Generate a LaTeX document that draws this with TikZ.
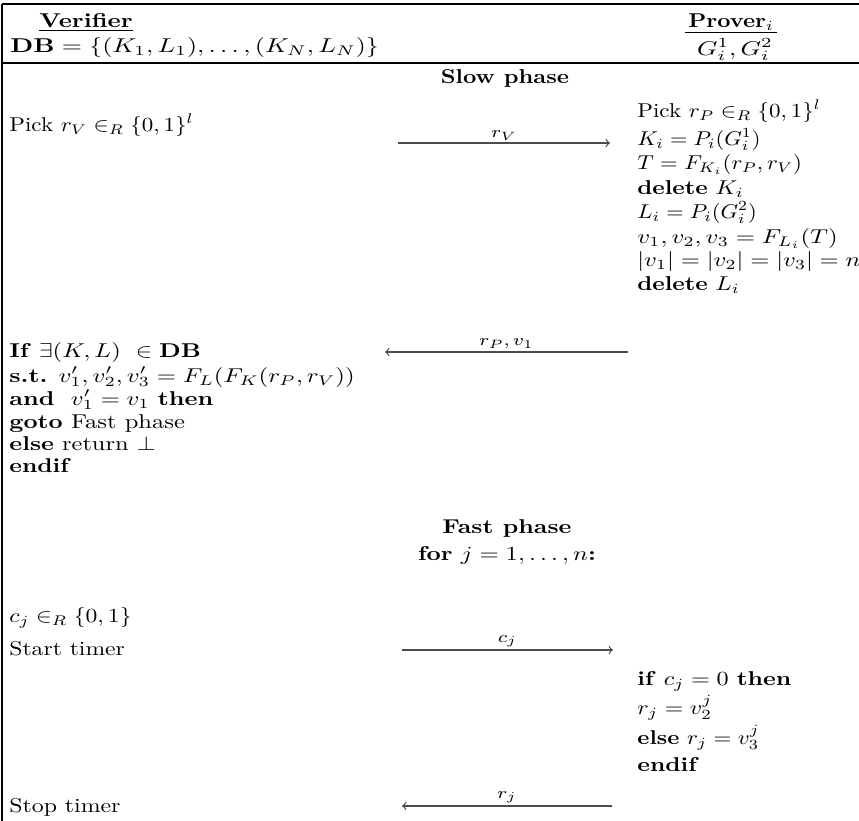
\documentclass[tikz,border=0pt]{standalone}
\usepackage{amsmath,amssymb,graphicx}
\newcommand{\sx}[2][1.2]{\scalebox{#1}[1]{#2}}
\begin{document}
\begin{tikzpicture}[x=0.5pt,y=-0.5pt,
  txt/.style={anchor=base west,inner sep=0pt},
  ctr/.style={anchor=base,inner sep=0pt},
  frame/.style={line width=0.6pt},
  msg/.style={line width=0.6pt,draw=black!70,-to},
  lbl/.style={midway,above,inner sep=1.2pt,font=\footnotesize}]
\useasboundingbox (0,0) rectangle (859,821);
% frame
\draw[frame] (2,4) -- (859,4);
\draw[frame] (2,4) -- (2,821);
\draw[frame] (2,63) -- (859,63);
% header
\node[txt] (ver) at (39,27) {\sx[1.25]{\underline{\textbf{Verifier}}}};
\node[txt] (db) at (10,52) {\sx[1.3]{$\mathbf{DB}=\{(K_1,L_1),\ldots,(K_N,L_N)\}$}};
\node[ctr] (prv) at (731,27) {\sx[1.15]{\textbf{Prover}$_i$}};
\node[ctr] (gg) at (735,55) {\sx[1.3]{$G_i^1,G_i^2$}};
\draw[line width=0.45pt] (685,32) -- (777,32);
% slow phase
\node[ctr] (slow) at (505,83) {\sx[1.16]{\textbf{Slow phase}}};
\node[txt] (v1) at (9,131) {\sx[1.15]{Pick $r_V\in_R\{0,1\}^l$}};
\node[txt] (p1) at (637,117) {\sx[1.15]{Pick $r_P\in_R\{0,1\}^l$}};
\node[txt] (p2) at (637,145) {\sx[1.12]{$K_i=P_i(G_i^1)$}};
\node[txt] (p3) at (637,169) {\sx[1.14]{$T=F_{K_i}(r_P,r_V)$}};
\node[txt] (p4) at (637,194) {\sx[1.18]{\textbf{delete} $K_i$}};
\node[txt] (p5) at (637,218) {\sx[1.12]{$L_i=P_i(G_i^2)$}};
\node[txt] (p6) at (637,243) {\sx[1.24]{$v_1,v_2,v_3=F_{L_i}(T)$}};
\node[txt] (p7) at (637,266) {\sx[1.23]{$|v_1|=|v_2|=|v_3|=n$}};
\node[txt] (p8) at (637,290) {\sx[1.18]{\textbf{delete} $L_i$}};
\coordinate (a1s) at (398,143);
\coordinate (a1e) at (610,143);
\draw[msg] (a1s) -- node[lbl] {\sx[1.23]{$r_V$}} (a1e);
\coordinate (a2s) at (628,352);
\coordinate (a2e) at (385,352);
\draw[msg] (a2s) -- node[lbl] {\sx[1.23]{$r_P,v_1$}} (a2e);
\node[txt] (v2) at (9,357) {\sx[1.23]{\textbf{If} $\exists(K,L)\ \in\mathbf{DB}$}};
\node[txt] (v3) at (9,382) {\sx[1.24]{\textbf{s.t.} $v_1',v_2',v_3'=F_L(F_K(r_P,r_V))$}};
\node[txt] (v4) at (9,405) {\sx[1.23]{\textbf{and} $\ v_1'=v_1$ \textbf{then}}};
\node[txt] (v5) at (9,428) {\sx[1.23]{\textbf{goto} Fast phase}};
\node[txt] (v6) at (9,450) {\sx[1.22]{\textbf{else} return $\perp$}};
\node[txt] (v7) at (9,472) {\sx[1.2]{\textbf{endif}}};
% fast phase
\node[ctr] (fast) at (507,533) {\sx[1.22]{\textbf{Fast phase}}};
\node[ctr] (forj) at (507,560) {\sx[1.24]{\textbf{for} $j=1,\ldots,n$\textbf{:}}};
\node[txt] (v8) at (9,622) {\sx[1.18]{$c_j\in_R\{0,1\}$}};
\node[txt] (v9) at (9,655) {\sx[1.18]{Start timer}};
\node[txt] (v10) at (9,812) {\sx[1.19]{Stop timer}};
\coordinate (a3s) at (402,650);
\coordinate (a3e) at (613,650);
\draw[msg] (a3s) -- node[lbl] {\sx[1.23]{$c_j$}} (a3e);
\node[txt] (p9) at (637,685) {\sx[1.21]{\textbf{if} $c_j=0$ \textbf{then}}};
\node[txt] (p10) at (637,714) {\sx[1.19]{$r_j=v_2^j$}};
\node[txt] (p11) at (637,744) {\sx[1.15]{\textbf{else} $r_j=v_3^j$}};
\node[txt] (p12) at (637,771) {\sx[1.2]{\textbf{endif}}};
\coordinate (a4s) at (612,806);
\coordinate (a4e) at (402,806);
\draw[msg] (a4s) -- node[lbl] {\sx[1.23]{$r_j$}} (a4e);
\end{tikzpicture}
\end{document}
